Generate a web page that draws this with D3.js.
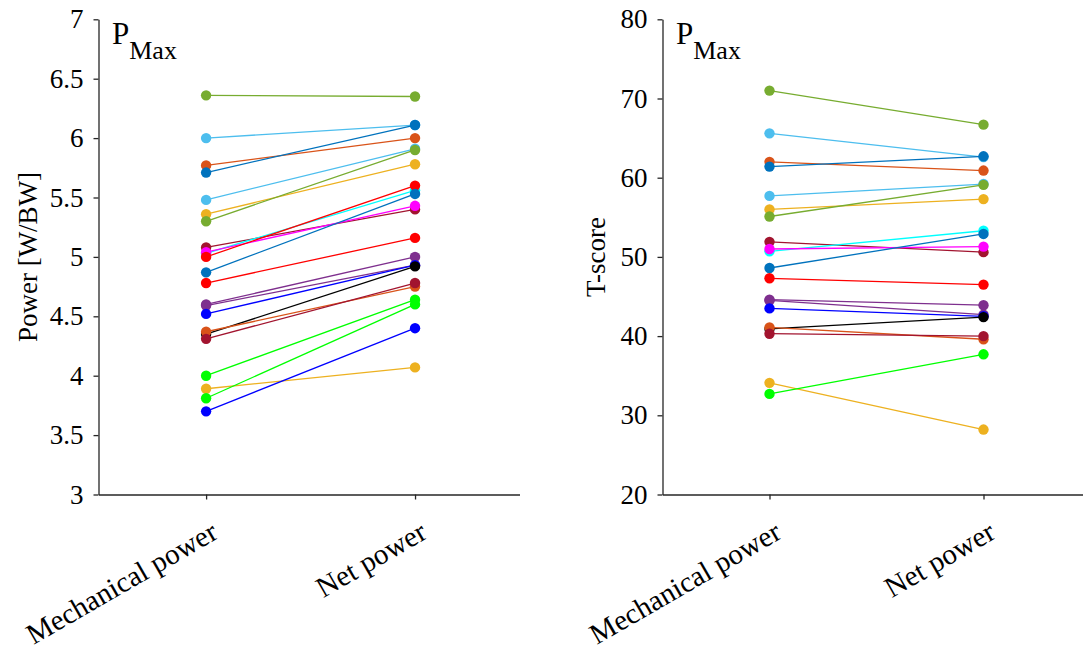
<!DOCTYPE html>
<html>
<head>
<meta charset="utf-8">
<script src="https://cdn.jsdelivr.net/npm/d3@7"></script>
<style>
  body { margin: 0; background: #fff; }
  svg { display: block; }
  text { font-family: "Liberation Serif", "Times New Roman", serif; fill: #000; }
</style>
</head>
<body>
<svg id="chart" width="1083" height="649"></svg>
<script>
// ---- data ----------------------------------------------------------------
const categories = ["Mechanical power", "Net power"];

// per-subject line colours (MATLAB palette plus pure colours)
const OLIVE = "#77AC30", LBLUE = "#4DBEEE", ORANGE = "#D95319", BLUE = "#0072BD",
      YELLOW = "#EDB120", PURPLE = "#7E2F8E", DRED = "#A2142F", RED = "#FF0000",
      PBLUE = "#0000FF", GREEN = "#00FF00", CYAN = "#00FFFF", MAGENTA = "#FF00FF",
      BLACK = "#000000";

// P_Max relative power [W/BW]
const powerColors = [OLIVE, LBLUE, ORANGE, BLUE, LBLUE, YELLOW, OLIVE, DRED, CYAN, MAGENTA,
                     RED, BLUE, RED, PURPLE, PURPLE, PBLUE, BLACK, ORANGE, DRED, GREEN,
                     YELLOW, GREEN, PBLUE];
const powerMechanical = [6.36, 6.00, 5.77, 5.71, 5.48, 5.36, 5.30, 5.08, 5.03, 5.04,
                         5.00, 4.87, 4.78, 4.60, 4.59, 4.52, 4.35, 4.37, 4.31, 4.00,
                         3.89, 3.81, 3.70];
const powerNet = [6.35, 6.11, 6.00, 6.11, 5.91, 5.78, 5.90, 5.40, 5.56, 5.43,
                  5.60, 5.53, 5.16, 5.00, 4.93, 4.93, 4.92, 4.75, 4.78, 4.64,
                  4.07, 4.60, 4.40];

// P_Max T-scores
const tscoreColors = [OLIVE, LBLUE, ORANGE, BLUE, LBLUE, YELLOW, OLIVE, DRED, CYAN, MAGENTA,
                      BLUE, RED, PURPLE, PURPLE, PBLUE, BLACK, ORANGE, DRED, YELLOW, GREEN];
const tscoreMechanical = [71.0, 65.6, 62.0, 61.4, 57.7, 56.0, 55.1, 51.9, 50.7, 51.0,
                          48.6, 47.3, 44.6, 44.5, 43.5, 40.9, 41.1, 40.3, 34.1, 32.7];
const tscoreNet = [66.7, 62.6, 60.9, 62.7, 59.2, 57.3, 59.1, 50.6, 53.3, 51.3,
                   52.9, 46.5, 43.9, 42.7, 42.5, 42.4, 39.6, 40.0, 28.2, 37.7];

const powerTicks = [3, 3.5, 4, 4.5, 5, 5.5, 6, 6.5, 7];
const powerTickLabels = ["3", "3.5", "4", "4.5", "5", "5.5", "6", "6.5", "7"];
const tscoreTicks = [20, 30, 40, 50, 60, 70, 80];
const tscoreTickLabels = ["20", "30", "40", "50", "60", "70", "80"];

// ---- drawing -------------------------------------------------------------
const svg = d3.select("#chart");
const AXIS = "#262626";
const FONT = "Liberation Serif, Times New Roman, serif";
const TOP = 19.3, BOTTOM = 494.5;

function drawPanel(cfg) {
  const g = svg.append("g");
  const x = d3.scaleLinear().domain(cfg.xlim).range(cfg.xRange);
  const y = d3.scaleLinear().domain(cfg.ylim).range([BOTTOM, TOP]);
  const line = d3.line().x(d => x(d[0])).y(d => y(d[1]));

  // one line + two markers per subject
  cfg.colors.forEach((c, i) => {
    const pts = [[1, cfg.mech[i]], [2, cfg.net[i]]];
    const s = g.append("g");
    s.append("path")
      .attr("d", line(pts))
      .attr("fill", "none")
      .attr("stroke", c)
      .attr("stroke-width", 1.3);
    s.selectAll("circle").data(pts).join("circle")
      .attr("cx", d => x(d[0]))
      .attr("cy", d => y(d[1]))
      .attr("r", 5.2)
      .attr("fill", c);
  });

  // y axis
  const ya = g.append("g")
    .attr("transform", `translate(${cfg.xRange[0]},0)`)
    .call(d3.axisLeft(y).tickValues(cfg.ticks)
      .tickFormat((d, i) => cfg.tickLabels[i])
      .tickSizeInner(5).tickSizeOuter(0).tickPadding(10));
  ya.attr("font-family", FONT);
  ya.select(".domain").attr("stroke", AXIS).attr("stroke-width", 1.3);
  ya.selectAll(".tick line").attr("stroke", AXIS).attr("stroke-width", 1.3);
  ya.selectAll(".tick text")
    .attr("font-family", FONT)
    .attr("font-size", 27).attr("fill", "#000");

  // x axis with rotated category labels
  const xa = g.append("g")
    .attr("transform", `translate(0,${BOTTOM})`)
    .call(d3.axisBottom(x).tickValues([1, 2])
      .tickFormat((d, i) => categories[i])
      .tickSizeInner(5).tickSizeOuter(0));
  xa.attr("font-family", FONT);
  xa.select(".domain").attr("stroke", AXIS).attr("stroke-width", 1.3);
  xa.selectAll(".tick line").attr("stroke", AXIS).attr("stroke-width", 1.3);
  xa.selectAll(".tick text")
    .attr("font-family", FONT)
    .attr("font-size", 29).attr("fill", "#000")
    .attr("x", 0).attr("y", 0).attr("dy", null)
    .attr("text-anchor", "end")
    .attr("transform", "translate(13,43) rotate(-30)");

  // y label
  g.append("text")
    .attr("transform", `translate(${cfg.ylabelX},257) rotate(-90)`)
    .attr("text-anchor", "middle")
    .attr("font-size", 27)
    .text(cfg.ylabel);

  // panel title P_Max
  const t = g.append("text")
    .attr("x", cfg.xRange[0] + 13.5)
    .attr("y", 43.5)
    .attr("font-size", 31);
  t.append("tspan").text("P");
  t.append("tspan").attr("font-size", 26).attr("dy", 15.5).text("Max");
}

drawPanel({
  xlim: [0.485, 2.5], xRange: [98.5, 519.5],
  ylim: [3, 7], ticks: powerTicks, tickLabels: powerTickLabels,
  colors: powerColors, mech: powerMechanical, net: powerNet,
  ylabel: "Power [W/BW]", ylabelX: 37
});

drawPanel({
  xlim: [0.5, 2.5], xRange: [662.5, 1090.5],
  ylim: [20, 80], ticks: tscoreTicks, tickLabels: tscoreTickLabels,
  colors: tscoreColors, mech: tscoreMechanical, net: tscoreNet,
  ylabel: "T-score", ylabelX: 605
});
</script>
</body>
</html>
